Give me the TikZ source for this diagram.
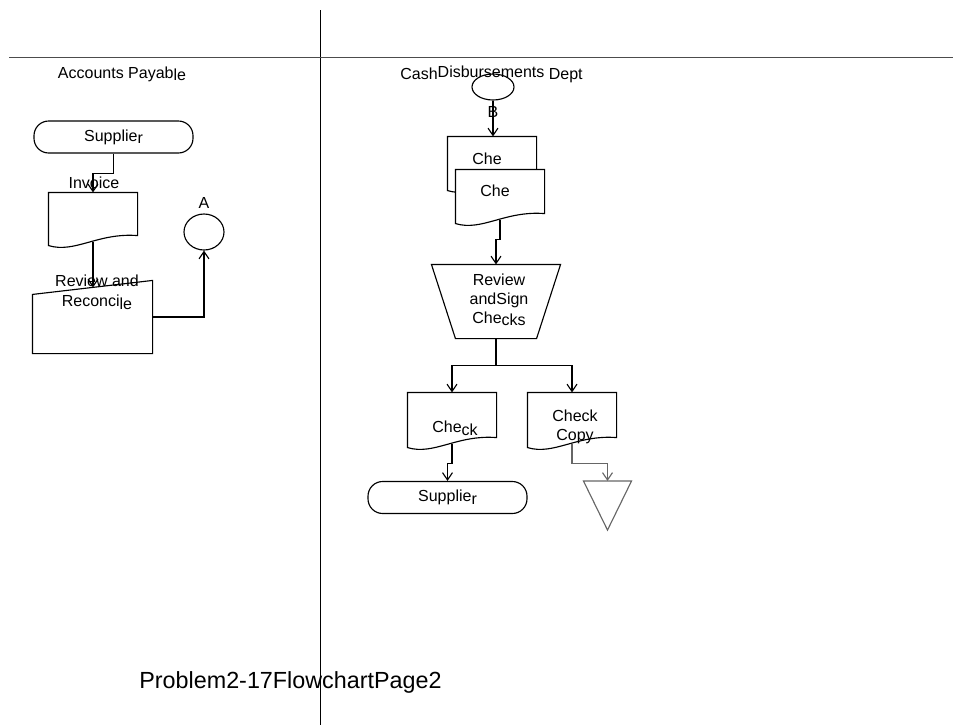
\documentclass[tikz,border=0pt]{standalone}
\usepackage{fontspec}
\setmainfont{Liberation Sans}
\usetikzlibrary{calc,shapes.geometric,arrows.meta}

\newcommand{\pxu}{0.75pt}
\newcommand{\dn}[1]{\raisebox{-2pt}{#1}}

% flowchart symbols, drawn round an empty box node
\newcommand{\docshape}[2][]{%
  \draw[#1] ($(#2.south west)+(0,4)$) -- (#2.north west) -- (#2.north east) -- ($(#2.south east)+(0,-6)$)
    .. controls ($(#2.south west)!0.55!(#2.south east)+(0,-9)$) and ($(#2.south west)!0.3!(#2.south east)+(0,12)$) .. ($(#2.south west)+(0,4)$) -- cycle;}
\newcommand{\manshape}[1]{%
  \draw ($(#1.north west)+(0,14)$) -- (#1.north east) -- (#1.south east) -- (#1.south west) -- cycle;}
\newcommand{\opshape}[1]{%
  \draw (#1.north west) -- (#1.north east) -- ($(#1.south east)+(-24,0)$) -- ($(#1.south west)+(24,0)$) -- cycle;}
\newcommand{\fileshape}[1]{%
  \draw[gray!80!black] (#1.north west) -- (#1.north east) -- (#1.south) -- cycle;}

\tikzset{
  every node/.style={font=\fontsize{12}{14}\selectfont},
  box/.style={inner sep=0pt},
  term/.style={draw, rectangle, rounded corners=11pt, inner sep=0pt, minimum width=159*\pxu, minimum height=32*\pxu},
  conn/.style={draw, ellipse, inner sep=0pt},
  arr/.style={-{Straight Barb[length=5.5pt,width=7.5pt]}},
}

\begin{document}
\begin{tikzpicture}[x=0.75pt,y=-0.75pt,line width=0.85pt]
\useasboundingbox (0,0) rectangle (953,725);

% lanes
\draw (320.5,10) -- (320.5,725);
\draw[gray!60!black] (9,57.5) -- (952.5,57.5);
\node (apTxt) at (122,74) {Accounts Payab\dn{le}};
\node (cdTxt) at (491.5,74) {Cash\raisebox{1.5pt}{Disbursements} Dept};

% Accounts Payable
\node[term] (sup1) at (113.5,137) {Supplie\dn{r}};
\node[box, minimum width=88*\pxu, minimum height=48*\pxu] (inv) at (93,217) {};
\docshape{inv}
\node (invTxt) at (94,183) {Invoice};
\node[box, minimum width=119*\pxu, minimum height=72*\pxu] (rev) at (92.5,317) {};
\manshape{rev}
\node[align=center, font=\fontsize{12}{15}\selectfont] (revTxt) at (97,292) {Review and\\Reconci\dn{le}};
\node[conn, minimum width=40*\pxu, minimum height=36*\pxu, label=above:A] (conA) at (204,232) {};

\draw[arr] (sup1.south) -- ++(0,20) -| (inv.north);
\coordinate (revIn) at ($(rev.north west)!0.5!(rev.north east)+(0,7)$);
\draw[arr] (inv.south) -- (inv.south |- revIn);
\draw[arr] (rev.east) -| (conA.south);

% Cash Disbursements Dept
\node[conn, minimum width=42*\pxu, minimum height=26*\pxu, label={[label distance=1pt]below:B}] (conB) at (493,87) {};
\node[box, minimum width=88*\pxu, minimum height=49*\pxu] (chkA) at (492,161.5) {};
\docshape{chkA}
\node (chkATxt) at (487,159) {Che};
\node[box, minimum width=88*\pxu, minimum height=49*\pxu] (chkB) at (500,194.5) {};
\docshape[fill=white]{chkB}
\node (chkBTxt) at (495,191) {Che};
\node[box, minimum width=128*\pxu, minimum height=73*\pxu] (sgn) at (496,301.5) {};
\opshape{sgn}
\node[align=center] (sgnTxt) at (499,300) {Review\\andSign\\Che\dn{cks}};

\node[box, minimum width=88*\pxu, minimum height=50*\pxu] (chk) at (452,418) {};
\docshape{chk}
\node (chkTxt) at (455,428) {Che\dn{ck}};
\node[box, minimum width=88*\pxu, minimum height=50*\pxu] (cpy) at (572,418) {};
\docshape{cpy}
\node[align=center] (cpyTxt) at (575,427) {Check\\Copy};
\node[term] (sup2) at (447.5,497.5) {Supplie\dn{r}};
\node[box, minimum width=47*\pxu, minimum height=48*\pxu] (fil) at (607.5,505.5) {};
\fileshape{fil}

\draw[arr] (conB.south) -- (conB.south |- chkA.north);
\draw[arr] (chkB.south) -- ++(0,20) -| (sgn.north);
\draw (sgn.south) -- ++(0,27) coordinate (fork);
\draw[arr] (fork) -| (chk.north);
\draw[arr] (fork) -| (cpy.north);
\draw[arr] (chk.south) -- ++(0,20) -| (sup2.north);
\draw[arr, gray!80!black] (cpy.south) -- ++(0,20) -| (fil.north);

\node[font=\fontsize{17.5}{20}\selectfont] (title) at (290.5,682) {Problem2-17FlowchartPage2};
\end{tikzpicture}
\end{document}
